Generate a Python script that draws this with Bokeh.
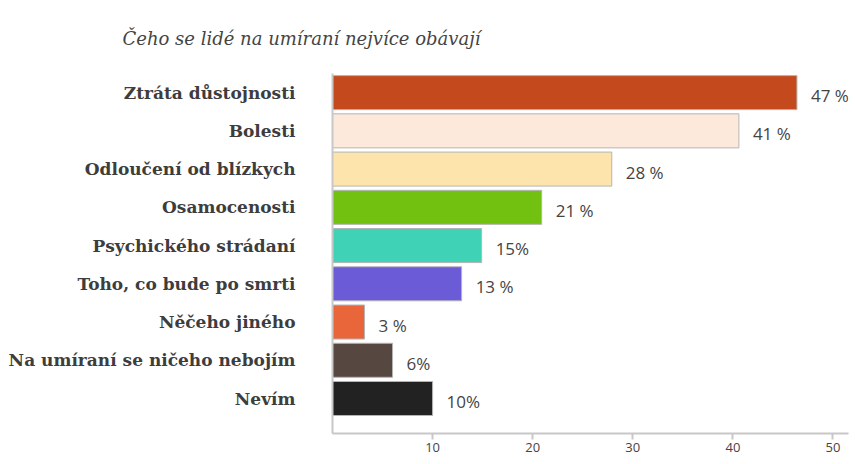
from bokeh.plotting import figure
from bokeh.models import ColumnDataSource, Range1d, FixedTicker, LabelSet
from bokeh.core.properties import value
from bokeh.embed import file_html
from bokeh.resources import INLINE

title_text = "Čeho se lidé na umíraní nejvíce obávají"
categories = ["Ztráta důstojnosti", "Bolesti", "Odloučení od blízkych", "Osamocenosti",
              "Psychického strádaní", "Toho, co bude po smrti", "Něčeho jiného",
              "Na umíraní se ničeho nebojím", "Nevím"]
values = [46.4, 40.6, 27.9, 20.9, 14.9, 12.9, 3.2, 6.0, 10.0]
value_labels = ["47 %", "41 %", "28 %", "21 %", "15%", "13 %", "3 %", "6%", "10%"]
colors = ["#c44a1e", "#fde8dc", "#fde4ad", "#72c010", "#3fd2b6", "#6b5bd6",
          "#e8663a", "#574741", "#222222"]
x_ticks = [10, 20, 30, 40, 50]

n = len(categories)
ypos = [n - 1 - i for i in range(n)]

src = ColumnDataSource(dict(y=ypos, v=values, lab=value_labels, c=colors))

p = figure(width=849, height=456, output_backend="svg", toolbar_location=None,
           x_range=Range1d(0, 51.55), y_range=Range1d(-0.915, 8.5),
           min_border_left=332, min_border_top=73, min_border_right=1, min_border_bottom=23)
p.outline_line_color = None
p.grid.grid_line_color = None
p.background_fill_color = "white"

p.hbar(y="y", right="v", left=0, height=0.89, fill_color="c", line_color="#b5b5b5",
       line_width=1, source=src)

labels = LabelSet(x="v", y="y", text="lab", source=src, x_offset=14, y_offset=-3,
                  text_baseline="middle", text_font=value("Open Sans"),
                  text_font_size=value("17px"), text_color=value("#444444"))
p.add_layout(labels)

# title
p.title.text = title_text
p.title.text_font = "DejaVu Serif"
p.title.text_font_style = "italic"
p.title.text_font_size = "18px"
p.title.text_color = "#444444"
p.title.align = "left"
p.title.offset = -210
p.title.standoff = 50

# y axis
ya = p.yaxis[0]
ya.ticker = FixedTicker(ticks=ypos)
ya.major_label_overrides = {y: c for y, c in zip(ypos, categories)}
ya.major_tick_out = 0
ya.major_tick_in = 0
ya.minor_tick_out = 0
ya.minor_tick_in = 0
ya.major_label_standoff = 37
ya.major_label_text_font = "DejaVu Serif"
ya.major_label_text_font_style = "bold"
ya.major_label_text_font_size = "17px"
ya.major_label_text_color = "#3d3d3d"
ya.axis_line_color = "#c8c8c8"
ya.axis_line_width = 2

# x axis
xa = p.xaxis[0]
xa.ticker = FixedTicker(ticks=x_ticks)
xa.major_tick_out = 6
xa.major_tick_in = 0
xa.minor_tick_out = 0
xa.minor_tick_in = 0
xa.major_tick_line_color = "#c8c8c8"
xa.major_tick_line_width = 2
xa.axis_line_color = "#c8c8c8"
xa.axis_line_width = 2
xa.major_label_standoff = 3
xa.major_label_text_font = "Open Sans"
xa.major_label_text_font_size = "13px"
xa.major_label_text_color = "#444444"

open("out.html", "w").write(file_html(p, INLINE))
